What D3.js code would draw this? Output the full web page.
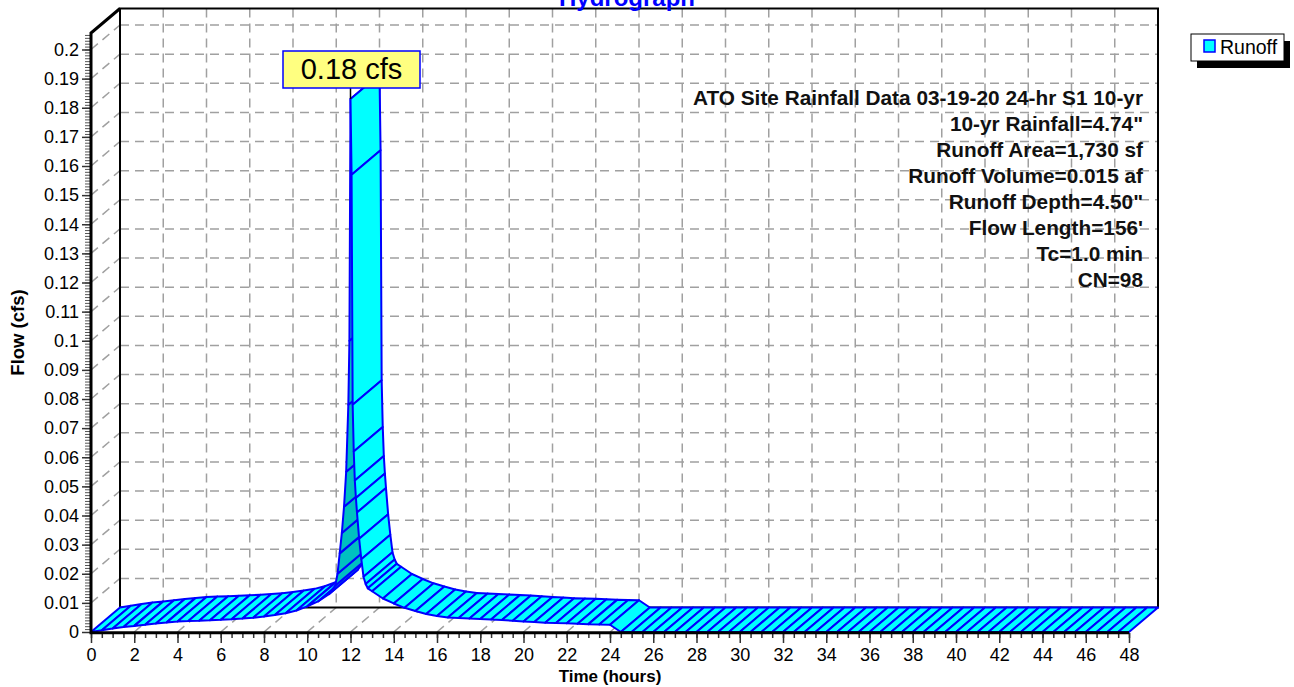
<!DOCTYPE html>
<html>
<head>
<meta charset="utf-8">
<script src="https://cdn.jsdelivr.net/npm/d3@7"></script>
<style>
  html, body { margin: 0; padding: 0; background: #ffffff; }
  svg { display: block; font-family: Arial, "Liberation Sans", sans-serif; }
</style>
</head>
<body>
<svg id="chart" width="1294" height="687"></svg>
<script>
// Runoff hydrograph: time (hours) and flow (cfs)
const timeHours = [
  0, 0.5, 1, 1.5, 2, 2.5, 3, 3.5, 4, 4.5, 5, 5.5, 6, 6.5, 7, 7.5, 8, 8.5, 9, 9.5,
  10, 10.5, 11, 11.3, 11.4, 11.5, 11.6, 11.7, 11.8, 11.9, 11.95, 12.0,
  12.05, 12.1, 12.15, 12.2, 12.25, 12.3, 12.4, 12.5, 12.6, 12.7, 12.8, 13.0,
  13.5, 14, 14.5, 15, 15.5, 16, 16.5, 17, 17.5, 18, 18.5, 19, 19.5, 20,
  20.5, 21, 21.5, 22, 22.5, 23, 23.5, 24, 24.5,
  25, 25.5, 26, 26.5, 27, 27.5, 28, 28.5, 29, 29.5, 30, 30.5, 31, 31.5, 32, 32.5,
  33, 33.5, 34, 34.5, 35, 35.5, 36, 36.5, 37, 37.5, 38, 38.5, 39, 39.5, 40, 40.5,
  41, 41.5, 42, 42.5, 43, 43.5, 44, 44.5, 45, 45.5, 46, 46.5, 47, 47.5, 48
];
const flowCfs = [
  0, 0.0006, 0.0012, 0.0017, 0.0021, 0.0025, 0.0029, 0.0033, 0.0036, 0.0038, 0.0039, 0.0040, 0.0042, 0.0044, 0.0046, 0.0049, 0.0053, 0.0058, 0.0064, 0.0074,
  0.0088, 0.0105, 0.0130, 0.0160, 0.0200, 0.0270, 0.0340, 0.0430, 0.0550, 0.0780, 0.1000, 0.1830,
  0.1570, 0.0780, 0.0620, 0.0520, 0.0460, 0.0410, 0.0320, 0.0250, 0.0190, 0.0165, 0.0150, 0.0140,
  0.0115, 0.0098, 0.0083, 0.0072, 0.0062, 0.0055, 0.0050, 0.0048, 0.0046, 0.0045, 0.0043, 0.0041, 0.0039, 0.0036,
  0.0034, 0.0032, 0.0031, 0.0030, 0.0028, 0.0027, 0.0026, 0.0025, 0,
  0, 0, 0, 0, 0, 0, 0, 0, 0, 0, 0, 0, 0, 0, 0, 0,
  0, 0, 0, 0, 0, 0, 0, 0, 0, 0, 0, 0, 0, 0, 0, 0,
  0, 0, 0, 0, 0, 0, 0, 0, 0, 0, 0, 0, 0, 0, 0, 0
];

const xTicks = d3.range(0, 49, 2);
const xMinorTicks = d3.range(0, 48.01, 0.5);
const yTicks = d3.range(0, 21).map(i => +(i * 0.01).toFixed(2));
const yMinorTicks = d3.range(0, 206).map(i => +(i * 0.001).toFixed(3));

const seriesName = "Runoff";
const titleText = "Hydrograph";
const xTitle = "Time  (hours)";
const yTitle = "Flow  (cfs)";
const notes = [
  "ATO Site Rainfall Data 03-19-20 24-hr S1 10-yr",
  "10-yr Rainfall=4.74\"",
  "Runoff Area=1,730 sf",
  "Runoff Volume=0.015 af",
  "Runoff Depth=4.50\"",
  "Flow Length=156'",
  "Tc=1.0 min",
  "CN=98"
];

// ---- layout ----
const svg = d3.select("#chart");
const x = d3.scaleLinear().domain([0, 48]).range([91, 1129]);
const y = d3.scaleLinear().domain([0, 0.2]).range([632, 49.5]);
const DX = 29, DY = -24.5;          // depth offset of the back plane
const frontTop = 33;                // top of the front value axis
const backLeft = x(0) + DX, backRight = x(48) + DX;
const backTop = frontTop + DY, backFloor = y(0) + DY;

const gridColor = "#a0a0a0";
const gridDash = "9,6";
const cyan = "#00ffff", teal = "#00c0c0", blue = "#0000ff";
const fontStack = "Arial, 'Liberation Sans', sans-serif";

// ---- grid on back wall, left wall and floor ----
const grid = svg.append("g").attr("stroke", gridColor).attr("stroke-width", 1.5)
  .attr("stroke-dasharray", gridDash).attr("fill", "none");

yTicks.filter(v => v > 0).forEach(v => {
  grid.append("line").attr("x1", backLeft).attr("x2", backRight)
    .attr("y1", y(v) + DY).attr("y2", y(v) + DY);
  grid.append("line").attr("x1", x(0)).attr("y1", y(v))
    .attr("x2", x(0) + DX).attr("y2", y(v) + DY);
});
xTicks.filter(v => v > 0 && v < 48).forEach(v => {
  grid.append("line").attr("x1", x(v) + DX).attr("x2", x(v) + DX)
    .attr("y1", backTop).attr("y2", backFloor);
  grid.append("line").attr("x1", x(v)).attr("y1", y(0))
    .attr("x2", x(v) + DX).attr("y2", backFloor);
});

// back wall frame
const frame = svg.append("g").attr("stroke", "#000").attr("stroke-width", 2).attr("fill", "none");
frame.append("path").attr("d",
  `M${backLeft},${backFloor} L${backLeft},${backTop} L${backRight},${backTop} L${backRight},${backFloor} Z`);

// ---- notes block ----
const notesG = svg.append("g").attr("font-weight", "bold").attr("font-size", 20.8)
  .attr("fill", "#111").attr("text-anchor", "end");
notes.forEach((t, i) => {
  notesG.append("text").attr("x", 1143).attr("y", 104.5 + i * 26.1).text(t);
});

// ---- ribbon (3D line with depth) ----
const pts = timeHours.map((t, i) => ({ fx: x(t), fy: y(flowCfs[i]) }));
const ribbon = svg.append("g").attr("stroke", blue).attr("stroke-width", 2)
  .attr("stroke-linejoin", "round");
for (let i = 0; i < pts.length - 1; i++) {
  const a = pts[i], b = pts[i + 1];
  const sx = b.fx - a.fx, sy = b.fy - a.fy;
  const cross = sx * DY - sy * DX;          // >0 : underside faces the viewer
  const quad = [[a.fx, a.fy], [b.fx, b.fy], [b.fx + DX, b.fy + DY], [a.fx + DX, a.fy + DY]];
  ribbon.append("path")
    .attr("d", "M" + quad.map(p => p.join(",")).join("L") + "Z")
    .attr("fill", cross > 0 ? teal : cyan);
}

// ---- front axes ----
const axisColor = "#333";
const gx = svg.append("g").attr("transform", `translate(0,${y(0) + 1})`);
gx.call(d3.axisBottom(x).tickValues(xMinorTicks).tickSize(5).tickFormat(""));
gx.selectAll(".tick line").attr("stroke", axisColor).attr("stroke-width", 1.5);
const gx2 = svg.append("g").attr("transform", `translate(0,${y(0) + 1})`);
gx2.call(d3.axisBottom(x).tickValues(xTicks).tickSize(10).tickPadding(5).tickFormat(d3.format("d")));
gx2.selectAll(".tick line").attr("stroke", axisColor).attr("stroke-width", 1.5);
gx2.selectAll(".tick text").attr("font-size", 18).attr("fill", "#000").attr("font-family", fontStack);
svg.selectAll(".domain").remove();

const gy = svg.append("g").attr("transform", `translate(${x(0)},0)`);
gy.call(d3.axisLeft(y).tickValues(yMinorTicks).tickSize(6).tickFormat(""));
gy.selectAll(".tick line").attr("stroke", "#555").attr("stroke-width", 1);
const gy2 = svg.append("g").attr("transform", `translate(${x(0)},0)`);
gy2.call(d3.axisLeft(y).tickValues(yTicks).tickSize(9).tickPadding(3).tickFormat(d3.format("~g")));
gy2.selectAll(".tick line").attr("stroke", axisColor).attr("stroke-width", 1.5);
gy2.selectAll(".tick text").attr("font-size", 18).attr("fill", "#000").attr("font-family", fontStack);
svg.selectAll(".domain").remove();

svg.append("path")
  .attr("d", `M${x(48)},${y(0) + 0.7} L${x(0)},${y(0) + 0.7} L${x(0)},${frontTop} L${x(0) + DX},${backTop}`)
  .attr("fill", "none").attr("stroke", "#000").attr("stroke-width", 3);

// ---- axis titles ----
svg.append("text").attr("x", (x(0) + x(48)) / 2).attr("y", 682)
  .attr("text-anchor", "middle").attr("font-weight", "bold").attr("font-size", 17)
  .text(xTitle);
svg.append("text").attr("transform", `translate(24,${(y(0) + frontTop) / 2}) rotate(-90)`)
  .attr("text-anchor", "middle").attr("font-weight", "bold").attr("font-size", 18.5)
  .text(yTitle);

// ---- chart title ----
svg.append("text").attr("x", 627).attr("y", 6).attr("text-anchor", "middle")
  .attr("font-weight", "bold").attr("font-size", 24).attr("fill", blue).text(titleText);

// ---- peak callout ----
const peakIdx = d3.maxIndex(flowCfs);
const peakX = x(timeHours[peakIdx]), peakY = y(flowCfs[peakIdx]);
const boxW = 137, boxH = 37, boxTop = 51;
svg.append("line").attr("x1", peakX).attr("x2", peakX).attr("y1", boxTop + boxH).attr("y2", peakY)
  .attr("stroke", "#000").attr("stroke-width", 1.5);
svg.append("rect").attr("x", peakX - boxW / 2 + 1).attr("y", boxTop).attr("width", boxW).attr("height", boxH)
  .attr("fill", "#ffff80").attr("stroke", blue).attr("stroke-width", 1.5);
svg.append("text").attr("x", peakX + 1).attr("y", boxTop + 28).attr("text-anchor", "middle")
  .attr("font-size", 29).attr("fill", "#000")
  .text(d3.format(".2f")(flowCfs[peakIdx]) + " cfs");

// ---- legend ----
const lg = svg.append("g");
lg.append("rect").attr("x", 1197).attr("y", 41).attr("width", 93).attr("height", 27).attr("fill", "#000");
lg.append("rect").attr("x", 1191).attr("y", 34).attr("width", 93).attr("height", 27)
  .attr("fill", "#fff").attr("stroke", "#000").attr("stroke-width", 1);
lg.append("rect").attr("x", 1204).attr("y", 40).attr("width", 11).attr("height", 12)
  .attr("fill", cyan).attr("stroke", blue).attr("stroke-width", 1.5);
lg.append("text").attr("x", 1220).attr("y", 53.5).attr("font-size", 19.5).text(seriesName);
</script>
</body>
</html>
